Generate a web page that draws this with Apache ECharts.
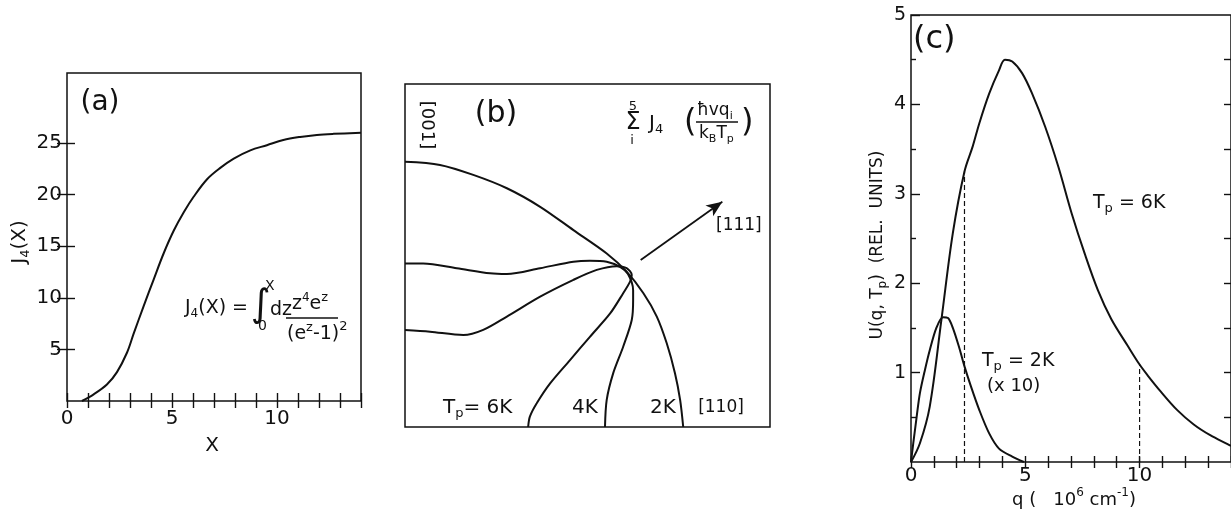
<!DOCTYPE html>
<html>
<head>
<meta charset="utf-8">
<script src="https://cdn.jsdelivr.net/npm/echarts@6/dist/echarts.min.js"></script>
<style>
  html, body { margin: 0; padding: 0; background: #fff; }
  #chart { width: 1231px; height: 510px; }
</style>
</head>
<body>
<div id="chart"></div>
<script>
// ---- (a) J4(X) ----
const aX  = [0.71, 1.27, 1.9, 2.38, 2.86, 3.17, 3.65, 4.13, 4.6, 5.08, 5.56, 6.03, 6.67, 7.3, 7.94, 8.73, 9.52, 10.3, 11.1, 11.9, 12.7, 14.0];
const aJ4 = [0, 0.65, 1.6, 2.8, 4.7, 6.5, 9.2, 11.8, 14.3, 16.5, 18.3, 19.8, 21.5, 22.6, 23.5, 24.3, 24.8, 25.3, 25.6, 25.8, 25.9, 26.0];
const aXTicks  = [0,1,2,3,4,5,6,7,8,9,10,11,12,13,14];
const aXLabels = [0, 5, 10];
const aYTicks  = [5, 10, 15, 20, 25];

// ---- (b) constant-sum contours, [001]-[110] plane ----
const b2kX = [0, 0.102, 0.199, 0.297, 0.394, 0.491, 0.588, 0.646, 0.695, 0.734, 0.763, 0.787, 0.802, 0.811];
const b2kY = [0.773, 0.764, 0.735, 0.696, 0.642, 0.574, 0.506, 0.453, 0.390, 0.322, 0.244, 0.157, 0.079, 0];
const b4kX = [0, 0.053, 0.151, 0.248, 0.297, 0.394, 0.491, 0.539, 0.588, 0.627, 0.650, 0.665, 0.665, 0.661, 0.636, 0.607, 0.588, 0.583];
const b4kY = [0.477, 0.477, 0.463, 0.448, 0.446, 0.463, 0.482, 0.485, 0.482, 0.467, 0.446, 0.399, 0.370, 0.312, 0.234, 0.157, 0.079, 0];
const b6kX = [0, 0.073, 0.170, 0.228, 0.297, 0.394, 0.491, 0.559, 0.617, 0.646, 0.661, 0.656, 0.636, 0.598, 0.539, 0.481, 0.423, 0.384, 0.364, 0.359];
const b6kY = [0.283, 0.278, 0.268, 0.283, 0.322, 0.380, 0.429, 0.458, 0.469, 0.463, 0.443, 0.424, 0.390, 0.331, 0.263, 0.195, 0.127, 0.069, 0.030, 0];
const arrow111 = [[0.687, 0.487], [0.925, 0.657]];
const bXMax = 1.064;

// ---- (c) U(q, Tp) ----
const sixQ = [0, 0.39, 0.82, 1.33, 1.83, 2.34, 2.70, 2.99, 3.42, 3.85, 4.11, 4.43, 4.86, 5.30, 5.87, 6.45, 7.03, 7.60, 8.18, 8.76, 9.48, 10.0, 10.35, 10.92, 11.65, 12.37, 13.09, 13.85, 14.0];
const sixU = [0, 0.21, 0.62, 1.59, 2.56, 3.25, 3.53, 3.79, 4.12, 4.38, 4.50, 4.48, 4.35, 4.12, 3.75, 3.30, 2.78, 2.33, 1.92, 1.60, 1.30, 1.09, 0.97, 0.79, 0.58, 0.42, 0.30, 0.20, 0.18];
const twoQ = [0, 0.10, 0.25, 0.39, 0.61, 0.82, 1.11, 1.40, 1.62, 1.83, 2.12, 2.34, 2.63, 2.99, 3.42, 3.85, 4.43, 4.94];
const twoU = [0, 0.21, 0.51, 0.77, 1.03, 1.25, 1.50, 1.62, 1.61, 1.50, 1.27, 1.07, 0.84, 0.58, 0.32, 0.15, 0.06, 0];
const dashQ   = [2.34, 10.0];
const dashTop = [3.25, 1.09];
const cXTicks  = [0,1,2,3,4,5,6,7,8,9,10,11,12,13,14];
const cXLabels = [0, 5, 10];
const cYMajor  = [1, 2, 3, 4, 5];
const cYMinor  = [0.5, 1.5, 2.5, 3.5, 4.5];
const cYAll    = [0.5, 1, 1.5, 2, 2.5, 3, 3.5, 4, 4.5];

const INK = '#111';
const FONT = 'DejaVu Sans';

const measureCtx = document.createElement('canvas').getContext('2d');
function textWidth(t, size) {
  measureCtx.font = size + 'px "' + FONT + '"';
  return measureCtx.measureText(t).width;
}
// Lays out text pieces [text, size, dy] left to right around an anchor.
function textRun(pieces, x, y, align, rotation) {
  let total = 0;
  pieces.forEach(p => { total += textWidth(p[0], p[1]); });
  let cx = align === 'center' ? -total / 2 : (align === 'right' ? -total : 0);
  const children = pieces.map(p => {
    const el = {
      type: 'text', x: cx, y: p[2] || 0,
      style: { text: p[0], fontSize: p[1], fontFamily: FONT, fill: INK,
               textAlign: 'left', textVerticalAlign: 'middle' }
    };
    cx += textWidth(p[0], p[1]);
    return el;
  });
  return { type: 'group', x: x, y: y, rotation: rotation || 0, children: children, silent: true };
}
function hLine(x1, x2, y) {
  return { type: 'line', shape: { x1: x1, y1: y, x2: x2, y2: y }, style: { stroke: INK, lineWidth: 1.3 }, silent: true };
}

function pairs(xs, ys) { return xs.map((x, i) => [x, ys[i]]); }

const tickStyle = { color: INK, width: 1.4 };
const labelStyle = { color: INK, fontSize: 20, fontFamily: FONT };

function baseAxis(extra) {
  return Object.assign({
    type: 'value', splitLine: { show: false }, axisLine: { show: false },
    axisLabel: { show: false }, axisTick: { show: false }
  }, extra);
}

const curveStyle = { color: INK, width: 2 };
function curve(xi, yi, data, smooth) {
  return {
    type: 'line', xAxisIndex: xi, yAxisIndex: yi, data: data,
    showSymbol: false, symbol: 'none', smooth: smooth, silent: true,
    lineStyle: curveStyle, animation: false
  };
}

const series = [
  curve(0, 0, pairs(aX, aJ4), 0.35),
  curve(2, 2, pairs(b2kX, b2kY), 0.3),
  curve(2, 2, pairs(b4kX, b4kY), 0.3),
  curve(2, 2, pairs(b6kX, b6kY), 0.3),
  {
    type: 'line', xAxisIndex: 2, yAxisIndex: 2, data: [], silent: true, animation: false,
    markLine: {
      silent: true, symbol: ['none', 'arrow'], symbolSize: [10, 16], animation: false,
      label: { show: false },
      lineStyle: { color: INK, width: 1.8, type: 'solid' },
      data: [[{ coord: arrow111[0] }, { coord: arrow111[1] }]]
    }
  },
  curve(3, 3, pairs(sixQ, sixU), 0.35),
  curve(3, 3, pairs(twoQ, twoU), 0.3)
];
dashQ.forEach((q, i) => {
  series.push({
    type: 'line', xAxisIndex: 3, yAxisIndex: 3, data: [[q, 0], [q, dashTop[i]]],
    symbol: 'none', silent: true, animation: false,
    lineStyle: { color: INK, width: 1.2, type: [5, 3] }
  });
});

const graphics = [
  // (a)
  textRun([['(a)', 28, 0]], 100, 103, 'center'),
  textRun([['X', 20, 0]], 212, 446, 'center'),
  textRun([['J', 20, 0], ['4', 13, 6], ['(X)', 20, 0]], 20, 242, 'center', Math.PI / 2),
  textRun([['J', 19, 0], ['4', 12, 6], ['(X) =', 19, 0]], 185, 308, 'left'),
  textRun([['\u222B', 38, 0]], 251, 306, 'left'),
  textRun([['X', 14, 0]], 265, 286, 'left'),
  textRun([['0', 14, 0]], 258, 326, 'left'),
  textRun([['dz', 19, 0]], 270, 310, 'left'),
  textRun([['z', 19, 0], ['4', 12, -6], ['e', 19, 0], ['z', 13, -6]], 292, 304, 'left'),
  hLine(286, 338, 318),
  textRun([['(e', 19, 0], ['z', 13, -6], ['-1)', 19, 0], ['2', 13, -7]], 287, 334, 'left'),

  // (b)
  textRun([['(b)', 30, 0]], 496, 114, 'center'),
  textRun([['[001]', 18, 0]], 427, 125, 'center', -Math.PI / 2),
  textRun([['5', 13, 0]], 633, 107, 'center'),
  textRun([['\u03A3', 24, 0]], 633, 123, 'center'),
  textRun([['i', 13, 0]], 632, 141, 'center'),
  textRun([['J', 20, 0], ['4', 13, 6]], 649, 124, 'left'),
  textRun([['(', 32, 0]], 684, 123, 'left'),
  textRun([['\u0127vq', 17, 0], ['i', 11, 5]], 697, 111, 'left'),
  hLine(696, 738, 122),
  textRun([['k', 17, 0], ['B', 11, 5], ['T', 17, 0], ['p', 11, 5]], 699, 134, 'left'),
  textRun([[')', 32, 0]], 741, 123, 'left'),
  textRun([['[111]', 17, 0]], 716, 226, 'left'),
  textRun([['T', 20, 0], ['p', 13, 6], ['= 6K', 20, 0]], 443, 408, 'left'),
  textRun([['4K', 20, 0]], 585, 408, 'center'),
  textRun([['2K', 20, 0]], 663, 408, 'center'),
  textRun([['[110]', 17, 0]], 721, 408, 'center'),

  // (c)
  textRun([['(c)', 32, 0]], 913, 40, 'left'),
  textRun([['T', 19, 0], ['p', 13, 6], [' = 6K', 19, 0]], 1093, 203, 'left'),
  textRun([['T', 19, 0], ['p', 13, 6], [' = 2K', 19, 0]], 982, 361, 'left'),
  textRun([['(x 10)', 18, 0]], 987, 386, 'left'),
  textRun([['U(q, T', 17, 0], ['p', 12, 5], [')  (REL.  UNITS)', 17, 0]], 878, 245, 'center', Math.PI / 2),
  textRun([['q (   10', 18, 0], ['6', 12, -7], [' cm', 18, 0], ['-1', 12, -7], [')', 18, 0]], 1074, 500, 'center')
];

const option = {
  backgroundColor: '#ffffff',
  animation: false,
  grid: [
    { left: 67, top: 73, width: 294, height: 328, show: true, borderColor: INK, borderWidth: 1.5, backgroundColor: 'transparent' },
    { left: 405, top: 84, width: 365, height: 343, show: true, borderColor: INK, borderWidth: 1.5, backgroundColor: 'transparent' },
    { left: 911, top: 15, right: -2, height: 447, show: true, borderColor: INK, borderWidth: 1.5, backgroundColor: 'transparent' }
  ],
  xAxis: [
    baseAxis({ gridIndex: 0, position: 'bottom', min: 0, max: 14,
      axisTick: { show: true, inside: true, length: 8, customValues: aXTicks, lineStyle: tickStyle },
      axisLabel: Object.assign({ show: true, margin: 8, customValues: aXLabels }, labelStyle) }),
    baseAxis({ gridIndex: 0, position: 'top', min: 0, max: 14,
      axisTick: { show: true, inside: true, length: 7, customValues: aXTicks, lineStyle: tickStyle } }),
    baseAxis({ gridIndex: 1, min: 0, max: bXMax, show: false }),
    baseAxis({ gridIndex: 2, position: 'bottom', min: 0, max: 14,
      axisTick: { show: true, inside: true, length: 6, customValues: cXTicks, lineStyle: tickStyle },
      axisLabel: Object.assign({ show: true, margin: 4, customValues: cXLabels }, labelStyle) }),
    baseAxis({ gridIndex: 2, position: 'top', min: 0, max: 14,
      axisTick: { show: true, inside: true, length: 6, customValues: cXTicks, lineStyle: tickStyle } })
  ],
  yAxis: [
    baseAxis({ gridIndex: 0, position: 'left', min: 0, max: 31.8,
      axisTick: { show: true, inside: true, length: 8, customValues: aYTicks, lineStyle: tickStyle },
      axisLabel: Object.assign({ show: true, margin: 5, customValues: aYTicks }, labelStyle) }),
    baseAxis({ gridIndex: 0, position: 'right', min: 0, max: 31.8,
      axisTick: { show: true, inside: true, length: 10, customValues: aYTicks, lineStyle: tickStyle } }),
    baseAxis({ gridIndex: 1, min: 0, max: 1, show: false }),
    baseAxis({ gridIndex: 2, position: 'left', min: 0, max: 5,
      axisTick: { show: true, inside: true, length: 9, customValues: cYMajor, lineStyle: tickStyle },
      axisLabel: Object.assign({ show: true, margin: 5, customValues: cYMajor }, labelStyle, { fontSize: 19 }) }),
    baseAxis({ gridIndex: 2, position: 'left', min: 0, max: 5,
      axisTick: { show: true, inside: true, length: 5, customValues: cYMinor, lineStyle: tickStyle } }),
    baseAxis({ gridIndex: 2, position: 'right', min: 0, max: 5,
      axisTick: { show: true, inside: true, length: 7, customValues: cYAll, lineStyle: tickStyle } })
  ],
  series: series,
  graphic: { elements: graphics }
};

const chart = echarts.init(document.getElementById('chart'));
chart.setOption(option);
</script>
</body>
</html>
